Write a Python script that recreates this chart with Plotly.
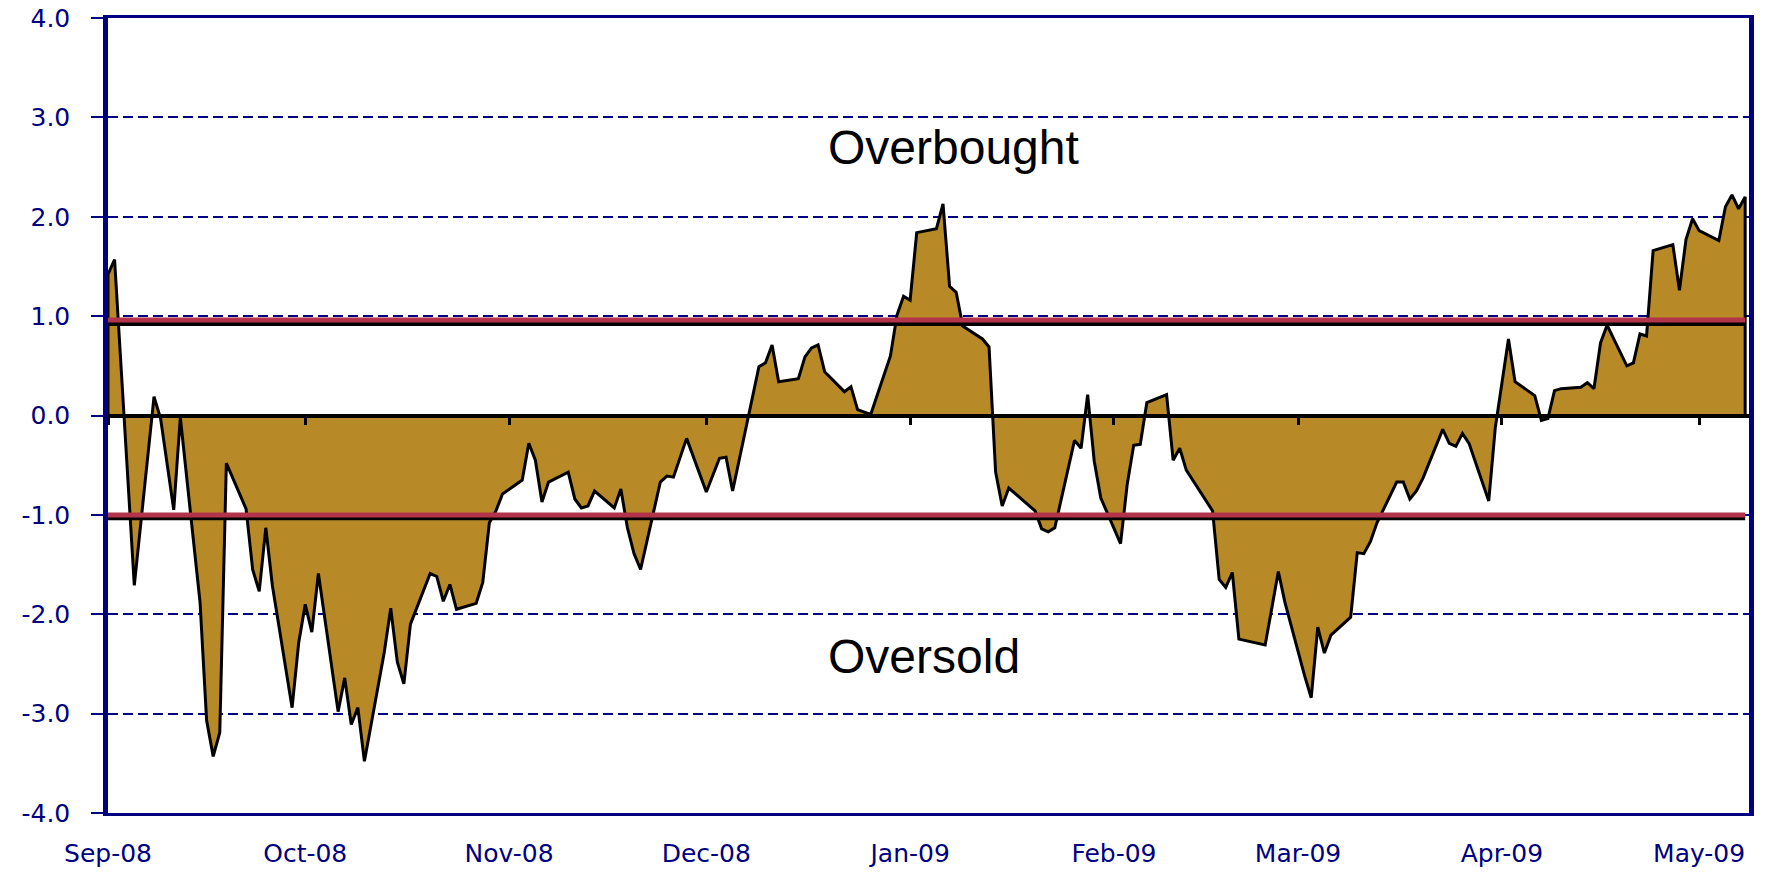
import plotly.graph_objects as go

# ---- data ----
dates = [
    "2008-09-01", "2008-09-02", "2008-09-05", "2008-09-08", "2008-09-09", "2008-09-11", "2008-09-12",
    "2008-09-15", "2008-09-16", "2008-09-17", "2008-09-18", "2008-09-19", "2008-09-22", "2008-09-23",
    "2008-09-24", "2008-09-25", "2008-09-26", "2008-09-29", "2008-09-30", "2008-10-01", "2008-10-02",
    "2008-10-03", "2008-10-06", "2008-10-07", "2008-10-08", "2008-10-09", "2008-10-10", "2008-10-13",
    "2008-10-14", "2008-10-15", "2008-10-16", "2008-10-17", "2008-10-20", "2008-10-21", "2008-10-22",
    "2008-10-23", "2008-10-24", "2008-10-27", "2008-10-28", "2008-10-29", "2008-10-30", "2008-10-31",
    "2008-11-03", "2008-11-04", "2008-11-05", "2008-11-06", "2008-11-07", "2008-11-10", "2008-11-11",
    "2008-11-12", "2008-11-13", "2008-11-14", "2008-11-17", "2008-11-18", "2008-11-19", "2008-11-20",
    "2008-11-21", "2008-11-24", "2008-11-25", "2008-11-26", "2008-11-28", "2008-12-01", "2008-12-03",
    "2008-12-04", "2008-12-05", "2008-12-09", "2008-12-10", "2008-12-11", "2008-12-12", "2008-12-15",
    "2008-12-16", "2008-12-17", "2008-12-18", "2008-12-19", "2008-12-22", "2008-12-23", "2008-12-24",
    "2008-12-26", "2008-12-29", "2008-12-30", "2008-12-31", "2009-01-01", "2009-01-02", "2009-01-05",
    "2009-01-06", "2009-01-07", "2009-01-08", "2009-01-09", "2009-01-12", "2009-01-13", "2009-01-14",
    "2009-01-15", "2009-01-16", "2009-01-20", "2009-01-21", "2009-01-22", "2009-01-23", "2009-01-26",
    "2009-01-27", "2009-01-28", "2009-01-29", "2009-01-30", "2009-02-02", "2009-02-03", "2009-02-04",
    "2009-02-05", "2009-02-06", "2009-02-09", "2009-02-10", "2009-02-11", "2009-02-12", "2009-02-16",
    "2009-02-17", "2009-02-18", "2009-02-19", "2009-02-20", "2009-02-24", "2009-02-26", "2009-02-27",
    "2009-03-02", "2009-03-03", "2009-03-04", "2009-03-05", "2009-03-06", "2009-03-09", "2009-03-10",
    "2009-03-11", "2009-03-12", "2009-03-13", "2009-03-16", "2009-03-17", "2009-03-18", "2009-03-19",
    "2009-03-20", "2009-03-23", "2009-03-24", "2009-03-25", "2009-03-26", "2009-03-27", "2009-03-30",
    "2009-03-31", "2009-04-02", "2009-04-03", "2009-04-06", "2009-04-07", "2009-04-08", "2009-04-09",
    "2009-04-10", "2009-04-13", "2009-04-14", "2009-04-15", "2009-04-16", "2009-04-17", "2009-04-20",
    "2009-04-21", "2009-04-22", "2009-04-23", "2009-04-24", "2009-04-27", "2009-04-28", "2009-04-29",
    "2009-04-30", "2009-05-01", "2009-05-04", "2009-05-05", "2009-05-06", "2009-05-07", "2009-05-08",
]

values = [
    1.42, 1.57, -1.71, 0.19, -0.03, -0.95, -0.02,
    -1.88, -3.07, -3.43, -3.19, -0.48, -0.94, -1.55,
    -1.77, -1.13, -1.71, -2.94, -2.29, -1.90, -2.18,
    -1.59, -2.98, -2.64, -3.11, -2.94, -3.48, -2.39,
    -1.94, -2.48, -2.70, -2.10, -1.59, -1.62, -1.87,
    -1.70, -1.95, -1.89, -1.68, -1.08, -0.96, -0.79,
    -0.65, -0.28, -0.45, -0.87, -0.67, -0.57, -0.84,
    -0.93, -0.91, -0.76, -0.93, -0.74, -1.13, -1.39,
    -1.55, -0.67, -0.61, -0.62, -0.23, -0.77, -0.43,
    -0.42, -0.76, 0.49, 0.53, 0.71, 0.34, 0.37,
    0.59, 0.68, 0.71, 0.44, 0.24, 0.29, 0.06,
    0.01, 0.60, 1.01, 1.20, 1.16, 1.84, 1.88,
    2.13, 1.30, 1.24, 0.90, 0.77, 0.69, -0.57,
    -0.91, -0.73, -0.96, -1.14, -1.17, -1.13, -0.25,
    -0.33, 0.21, -0.46, -0.83, -1.29, -0.70, -0.30,
    -0.29, 0.13, 0.21, -0.45, -0.33, -0.55, -0.96,
    -1.65, -1.73, -1.58, -2.25, -2.31, -1.57, -1.88,
    -2.62, -2.84, -2.13, -2.39, -2.21, -2.03, -1.38,
    -1.39, -1.27, -1.08, -0.67, -0.67, -0.84, -0.76,
    -0.63, -0.14, -0.28, -0.31, -0.18, -0.28, -0.86,
    -0.12, 0.77, 0.34, 0.20, -0.05, -0.03, 0.25,
    0.27, 0.285, 0.33, 0.27, 0.73, 0.91, 0.50,
    0.53, 0.82, 0.80, 1.66, 1.72, 1.26, 1.77,
    1.98, 1.86, 1.76, 2.10, 2.22, 2.08, 2.20,
]

month_ticks = ["2008-09-01", "2008-10-01", "2008-11-01", "2008-12-01", "2009-01-01",
               "2009-02-01", "2009-03-01", "2009-04-01", "2009-05-01"]
month_labels = ["Sep-08", "Oct-08", "Nov-08", "Dec-08", "Jan-09",
                "Feb-09", "Mar-09", "Apr-09", "May-09"]

y_ticks = [-4, -3, -2, -1, 0, 1, 2, 3, 4]
y_labels = ["-4.0", "-3.0", "-2.0", "-1.0", "0.0", "1.0", "2.0", "3.0", "4.0"]

overbought_red = 0.96
overbought_black = 0.92
oversold_red = -1.00
oversold_black = -1.035

x_range = ["2008-09-01", "2009-05-08 14:00"]

NAVY = "#000080"
GOLD = "#B88A27"
RED = "#B2334A"

fig = go.Figure()

# area with black outline (closed down to the zero baseline at both ends)
fig.add_trace(go.Scatter(
    x=[dates[0]] + dates + [dates[-1]],
    y=[0] + values + [0],
    mode="lines", fill="tozeroy", fillcolor=GOLD,
    line=dict(color="black", width=3),
    xaxis="x", yaxis="y", hoverinfo="skip", showlegend=False,
))

# threshold lines: black shadow then red line
for lvl, col, w in [(overbought_black, "black", 4), (oversold_black, "black", 4),
                    (overbought_red, RED, 5), (oversold_red, RED, 5)]:
    fig.add_trace(go.Scatter(
        x=[dates[0], dates[-1]], y=[lvl, lvl], mode="lines",
        line=dict(color=col, width=w), xaxis="x2", yaxis="y",
        hoverinfo="skip", showlegend=False,
    ))

tick_font = dict(family="DejaVu Sans", size=25, color=NAVY)

fig.update_layout(
    width=1776, height=872,
    margin=dict(l=108, r=27, t=18, b=59, autoexpand=False),
    paper_bgcolor="white", plot_bgcolor="white",
    showlegend=False,
    xaxis=dict(
        type="date", range=x_range, domain=[0, 1], automargin=False,
        showline=True, linecolor=NAVY, linewidth=2.5, mirror=True,
        ticks="", tickvals=month_ticks, ticktext=month_labels,
        tickfont=tick_font, ticklabelstandoff=16,
        showgrid=False, zeroline=False,
    ),
    xaxis2=dict(
        type="date", range=x_range, overlaying="x", anchor="free", position=0.5,
        automargin=False,
        showline=True, linecolor="black", linewidth=4,
        ticks="outside", ticklen=7, tickwidth=2.5, tickcolor="black",
        tickvals=month_ticks, showticklabels=False,
        showgrid=False, zeroline=False,
    ),
    yaxis=dict(
        range=[-4, 4], domain=[0, 1], automargin=False,
        showline=True, linecolor=NAVY, linewidth=4.5, mirror=True,
        ticks="outside", ticklen=12, tickwidth=2, tickcolor=NAVY,
        tickvals=y_ticks, ticktext=y_labels, tickfont=tick_font,
        ticklabelstandoff=16,
        showgrid=True, gridcolor=NAVY, gridwidth=1.5, griddash="10px,5px",
        zeroline=False,
    ),
    annotations=[
        dict(text="Overbought", xref="paper", yref="paper", x=0.5155, y=0.8375,
             xanchor="center", yanchor="middle", showarrow=False,
             font=dict(family="Liberation Sans", size=48, color="black")),
        dict(text="Oversold", xref="paper", yref="paper", x=0.4973, y=0.1965,
             xanchor="center", yanchor="middle", showarrow=False,
             font=dict(family="Liberation Sans", size=48, color="black")),
    ],
)

fig.write_html(
    "out.html",
    config={"displayModeBar": False},
    post_script="document.body.style.margin='0';document.body.style.overflow='hidden';",
)
